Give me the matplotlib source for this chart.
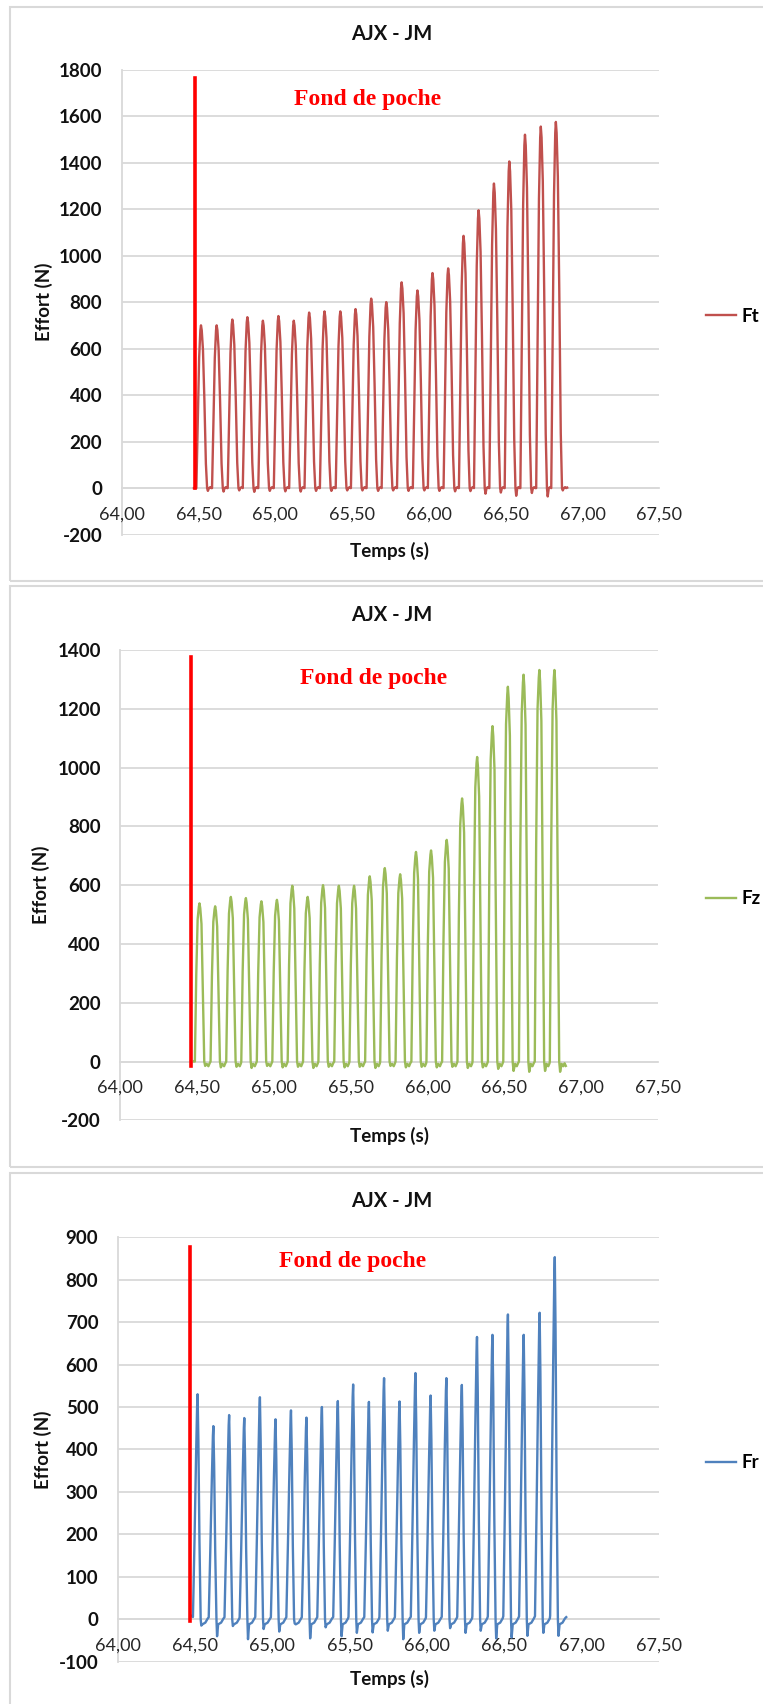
import numpy as np
import matplotlib.pyplot as plt
from matplotlib.patches import Rectangle
from matplotlib.ticker import FuncFormatter, MultipleLocator

plt.rcParams['font.family'] = ['Lato', 'DejaVu Sans']
plt.rcParams['axes.unicode_minus'] = False

W, H = 763, 1704

# peak times of the cutting pulses (s), shared by the three forces
t_peaks = [64.516, 64.618, 64.720, 64.818, 64.919, 65.020, 65.120, 65.220,
           65.320, 65.423, 65.522, 65.624, 65.722, 65.822, 65.925, 66.023,
           66.125, 66.225, 66.323, 66.423, 66.523, 66.625, 66.728, 66.826]

# peak values (N)
ft_peak = [700, 700, 725, 735, 720, 740, 720, 755, 760, 760, 770, 815,
           800, 885, 850, 925, 945, 1085, 1195, 1310, 1405, 1520, 1555, 1575]
fz_peak = [538, 528, 560, 556, 545, 550, 598, 560, 600, 598, 598, 630,
           658, 637, 713, 718, 754, 895, 1036, 1141, 1275, 1316, 1332, 1332]
fr_peak = [530, 455, 481, 474, 523, 471, 492, 475, 500, 514, 553, 512,
           568, 513, 580, 527, 568, 552, 665, 670, 718, 670, 722, 853]

# lowest value after each pulse (N)
ft_dip = [-12, -15, -10, -16, -12, -14, -15, -12, -12, -10, -10, -12,
          -10, -12, -10, -12, -14, -13, -24, -19, -33, -21, -36, -10]
fz_dip = [-15, -20, -18, -22, -15, -20, -18, -22, -18, -20, -18, -22,
          -15, -20, -18, -20, -18, -22, -20, -25, -32, -35, -32, -35]
fr_dip = [-15, -40, -16, -47, -23, -29, -10, -45, -19, -40, -32, -31,
          -27, -47, -32, -27, -21, -32, -27, -45, -43, -39, -32, -39]

# pulse profile: offset from peak (s) / fraction of peak
ft_shape_dt = [-0.030, -0.022, -0.012, -0.004, 0.0, 0.005, 0.013, 0.022, 0.032, 0.040]
ft_shape_frac = [0.0, 0.35, 0.8, 0.97, 1.0, 0.97, 0.85, 0.55, 0.15, 0.0]
ft_gap_dt = [0.045, 0.052, 0.060, 0.067]
ft_gap_val = [0, 4, 0]

fz_shape_dt = [-0.030, -0.021, -0.012, -0.004, 0.0, 0.005, 0.013, 0.022, 0.031]
fz_shape_frac = [0.0, 0.55, 0.9, 0.98, 1.0, 0.97, 0.87, 0.45, 0.0]
fz_gap_dt = [0.037, 0.047, 0.058, 0.066]
fz_gap_val = [-8, -16, -6]

fr_shape_dt = [-0.030, -0.020, -0.010, -0.003, 0.0, 0.005, 0.012, 0.020]
fr_shape_frac = [0.01, 0.35, 0.72, 0.95, 1.0, 0.8, 0.35, 0.0]
fr_gap_dt = [0.024, 0.031, 0.050, 0.066]
fr_gap_val = [-12, -8, 2]

# start / end points of each record
ft_ends = [(64.47, 0), (66.90, 2)]
fz_ends = [(64.48, 0), (66.90, -15)]
fr_ends = [(64.475, 8), (66.90, 5)]

# red "Fond de poche" marker
red_x = [64.475, 64.462, 64.466]
red_top = [1762, 1376, 878]
red_bot = [0, -15, -5]
label_xy = [(65.60, 1671), (65.65, 1303), (65.52, 843)]

names = ['Ft', 'Fz', 'Fr']
colors = ['#C0504D', '#9BBB59', '#4F81BD']
ylims = [(-200, 1800), (-200, 1400), (-100, 900)]
ysteps = [200, 200, 100]


def build(peaks, dips, sdt, sfr, gdt, gval, ends):
    t = [ends[0][0]]
    v = [ends[0][1]]
    for tp, pk, dp in zip(t_peaks, peaks, dips):
        for dt, fr in zip(sdt, sfr):
            t.append(tp + dt)
            v.append(pk * fr)
        t.append(tp + gdt[0])
        v.append(dp)
        for dt, gv in zip(gdt[1:], gval):
            t.append(tp + dt)
            v.append(gv)
    t.append(ends[1][0])
    v.append(ends[1][1])
    return t, v


series = [build(ft_peak, ft_dip, ft_shape_dt, ft_shape_frac, ft_gap_dt, ft_gap_val, ft_ends),
          build(fz_peak, fz_dip, fz_shape_dt, fz_shape_frac, fz_gap_dt, fz_gap_val, fz_ends),
          build(fr_peak, fr_dip, fr_shape_dt, fr_shape_frac, fr_gap_dt, fr_gap_val, fr_ends)]

# layout in pixels (left, right, top, bottom of plot area), panel box, text rows
plot_px = [(121.7, 659.4, 69.6, 534.6), (120.2, 658.0, 650.0, 1120.3), (117.8, 659.0, 1237.2, 1661.7)]
box_px = [(7, 581), (586, 1167), (1173, 1720)]
title_y = [34, 614.6, 1201]
xlab_y = [551, 1136, 1679]
ylab_x = [44, 41, 43]
leg_y = [316, 899, 1463]

fig = plt.figure(figsize=(W / 100, H / 100), dpi=100)

xfmt = FuncFormatter(lambda x, p: f"{x:.2f}".replace('.', ','))

for i in range(3):
    l, r, t, b = plot_px[i]
    y0, y1 = box_px[i]
    fig.patches.append(Rectangle((10 / W, 1 - y1 / H), 1.0, (y1 - y0) / H,
                                 transform=fig.transFigure, fill=False,
                                 edgecolor='#d9d9d9', lw=1.5))
    ax = fig.add_axes([l / W, 1 - b / H, (r - l) / W, (b - t) / H])
    ax.set_xlim(64, 67.5)
    ax.set_ylim(*ylims[i])
    ax.set_xticks(np.arange(64, 67.51, 0.5))
    ax.xaxis.set_major_formatter(xfmt)
    ax.yaxis.set_major_locator(MultipleLocator(ysteps[i]))
    ax.grid(axis='y', color='#d9d9d9', lw=1.3)
    ax.set_axisbelow(True)
    for s in ['top', 'right']:
        ax.spines[s].set_visible(False)
    for s in ['left', 'bottom']:
        ax.spines[s].set_color('#d9d9d9')
        ax.spines[s].set_linewidth(1.3)
        ax.spines[s].set_zorder(0.2)
    ax.spines['bottom'].set_position(('data', 0))
    ax.tick_params(axis='both', length=0)
    ax.tick_params(axis='x', pad=13, labelsize=13, labelcolor='#262626')
    ax.tick_params(axis='y', pad=14, labelsize=13.5, labelcolor='#111111')
    for lab in ax.get_yticklabels():
        lab.set_fontweight('bold')

    tt, vv = series[i]
    line, = ax.plot(tt, vv, color=colors[i], lw=1.7, solid_joinstyle='round')

    ax.plot([red_x[i], red_x[i]], [red_bot[i], red_top[i]], color='#FF0000', lw=2.6)
    ax.text(label_xy[i][0], label_xy[i][1], 'Fond de poche', color='#FF0000',
            family='Liberation Serif', fontweight='bold', fontsize=17,
            ha='center', va='center')

    fig.text(392 / W, 1 - title_y[i] / H, 'AJX - JM', ha='center', va='center',
             fontsize=14.5, fontweight='bold', color='#111111')
    fig.text(390 / W, 1 - xlab_y[i] / H, 'Temps (s)', ha='center', va='center',
             fontsize=13.5, fontweight='bold', color='#111111')
    fig.text(ylab_x[i] / W, 1 - (t + b) / 2 / H, 'Effort (N)', ha='center', va='center',
             rotation=90, fontsize=13.5, fontweight='bold', color='#111111')
    ax.legend([line], [names[i]], loc='center left',
              bbox_to_anchor=(706 / W, 1 - leg_y[i] / H), bbox_transform=fig.transFigure,
              frameon=False, handlelength=1.6, handletextpad=0.3, borderpad=0,
              borderaxespad=0, prop=dict(weight='bold', size=13.5))

fig.savefig('out.png', dpi=100)
